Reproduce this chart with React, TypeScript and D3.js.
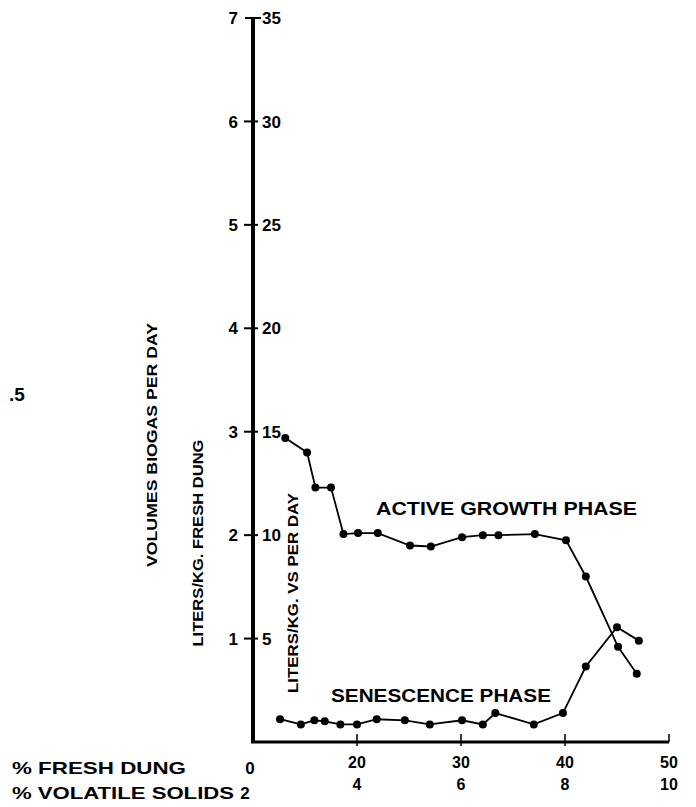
import React from "react";
import * as d3 from "d3";

const activeX = [13.1, 15.2, 16.0, 17.5, 18.7, 20.1, 22.0, 25.1, 27.1, 30.1, 32.1, 33.6, 37.1, 40.1, 42.0, 45.1, 46.9];
const activeY = [2.94, 2.8, 2.46, 2.46, 2.01, 2.02, 2.02, 1.9, 1.89, 1.98, 2.0, 2.0, 2.01, 1.95, 1.6, 0.92, 0.66];
const senX = [12.6, 14.6, 15.9, 16.9, 18.4, 20.0, 21.9, 24.6, 27.0, 30.1, 32.1, 33.3, 37.0, 39.8, 42.0, 45.0, 47.1];
const senY = [0.22, 0.17, 0.21, 0.2, 0.17, 0.17, 0.22, 0.21, 0.17, 0.21, 0.17, 0.28, 0.17, 0.28, 0.73, 1.11, 0.98];

const leftTicks = [1, 2, 3, 4, 5, 6, 7];
const rightTickLabels = ["5", "10", "15", "20", "25", "30", "35"];
const xTicks = [20, 30, 40, 50];
const xFreshLabels = ["20", "30", "40", "50"];
const xVsLabels = ["4", "6", "8", "10"];
const xOrigin = 10;
const originFreshLabel = "0";
const originVsLabel = "2";

const FONT = "'Liberation Sans', Arial, Helvetica, sans-serif";

export default function App() {
  const x = d3.scaleLinear().domain([10, 50]).range([253, 669]);
  const y = d3.scaleLinear().domain([0, 7]).range([742, 18]);
  const line = d3
    .line<[number, number]>()
    .x((d) => x(d[0]))
    .y((d) => y(d[1]));
  const active: [number, number][] = activeX.map((v, i) => [v, activeY[i]]);
  const sen: [number, number][] = senX.map((v, i) => [v, senY[i]]);
  const x0 = x(xOrigin);
  const y0 = y(0);

  return (
    <svg
      width={696}
      height={807}
      style={{ position: "absolute", left: 0, top: 0, background: "#fff" }}
      fontFamily={FONT}
      fontWeight="bold"
    >
      <rect width={696} height={807} fill="#fff" />
      {/* axes */}
      <line x1={x0} x2={x0} y1={y(7)} y2={y0 + 1} stroke="#000" strokeWidth={4} />
      <line x1={x0 - 2} x2={x(50)} y1={y0} y2={y0} stroke="#000" strokeWidth={3} />
      {leftTicks.map((t, i) => (
        <g key={t}>
          <line
            x1={x0 - (t === 7 ? 8 : 9)}
            x2={x0 + (t === 7 ? 8 : 5)}
            y1={y(t)}
            y2={y(t)}
            stroke="#000"
            strokeWidth={2}
          />
          <text x={x0 - 15} y={y(t)} dy="0.36em" textAnchor="end" fontSize={17}>
            {t}
          </text>
          <text x={x0 + 9} y={y(t)} dy="0.36em" textAnchor="start" fontSize={17}>
            {rightTickLabels[i]}
          </text>
        </g>
      ))}
      {xTicks.map((t, i) => (
        <g key={t}>
          <line
            x1={x(t)}
            x2={x(t)}
            y1={y0 - 8}
            y2={y0 + (t === 50 ? 0 : 4)}
            stroke="#000"
            strokeWidth={1.5}
          />
          <text x={x(t)} y={y0 + 26} textAnchor="middle" fontSize={16}>
            {xFreshLabels[i]}
          </text>
          <text x={x(t)} y={y0 + 48} textAnchor="middle" fontSize={16}>
            {xVsLabels[i]}
          </text>
        </g>
      ))}
      <text x={x0 - 3} y={y0 + 32} textAnchor="middle" fontSize={17}>
        {originFreshLabel}
      </text>
      <text x={x0 - 8} y={y0 + 57} textAnchor="middle" fontSize={17}>
        {originVsLabel}
      </text>
      <text x={12} y={y0 + 32} fontSize={17} textLength={174} lengthAdjust="spacingAndGlyphs">
        % FRESH DUNG
      </text>
      <text x={12} y={y0 + 57} fontSize={17} textLength={222} lengthAdjust="spacingAndGlyphs">
        % VOLATILE SOLIDS
      </text>

      {/* axis titles */}
      <text
        transform={`translate(157,445) rotate(-90)`}
        textAnchor="middle"
        fontSize={15}
        textLength={244}
        lengthAdjust="spacingAndGlyphs"
      >
        VOLUMES BIOGAS PER DAY
      </text>
      <text
        transform={`translate(203,543) rotate(-90)`}
        textAnchor="middle"
        fontSize={15}
        textLength={207}
        lengthAdjust="spacingAndGlyphs"
      >
        LITERS/KG. FRESH DUNG
      </text>
      <text
        transform={`translate(298,593) rotate(-90)`}
        textAnchor="middle"
        fontSize={15}
        textLength={200}
        lengthAdjust="spacingAndGlyphs"
      >
        LITERS/KG. VS PER DAY
      </text>
      <text x={9} y={401} fontSize={19}>
        .5
      </text>

      {/* series */}
      <path d={line(active) ?? ""} fill="none" stroke="#000" strokeWidth={1.8} />
      <path d={line(sen) ?? ""} fill="none" stroke="#000" strokeWidth={1.8} />
      {active.map((d, i) => (
        <circle key={"a" + i} cx={x(d[0])} cy={y(d[1])} r={4} fill="#000" />
      ))}
      {sen.map((d, i) => (
        <circle key={"s" + i} cx={x(d[0])} cy={y(d[1])} r={4} fill="#000" />
      ))}

      <text x={376} y={515} fontSize={18} textLength={261} lengthAdjust="spacingAndGlyphs">
        ACTIVE GROWTH PHASE
      </text>
      <text x={331} y={702} fontSize={18} textLength={220} lengthAdjust="spacingAndGlyphs">
        SENESCENCE PHASE
      </text>
    </svg>
  );
}
